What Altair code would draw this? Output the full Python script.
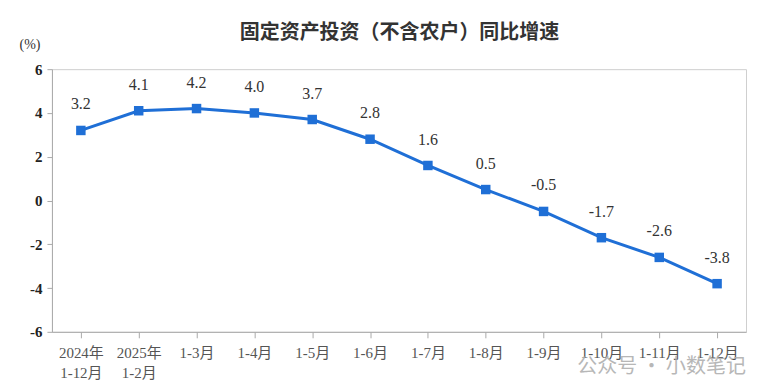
import altair as alt
import pandas as pd

categories = ["2024年\n1-12月", "2025年\n1-2月", "1-3月", "1-4月", "1-5月", "1-6月",
              "1-7月", "1-8月", "1-9月", "1-10月", "1-11月", "1-12月"]
values = [3.2, 4.1, 4.2, 4.0, 3.7, 2.8, 1.6, 0.5, -0.5, -1.7, -2.6, -3.8]
y_ticks = [-6, -4, -2, 0, 2, 4, 6]

df = pd.DataFrame({"cat": categories, "val": values,
                   "lab": [f"{v:.1f}" for v in values]})

BLUE = "#1f6fd6"
SERIF = "Liberation Serif, Noto Sans CJK SC"

x = alt.X("cat:N", sort=categories, title=None,
          scale=alt.Scale(paddingInner=0, paddingOuter=0),
          axis=alt.Axis(labelAngle=0, labelExpr="split(datum.label, '\\n')",
                        labelFont=SERIF, labelFontSize=15, labelColor="#555",
                        labelLineHeight=20, labelPadding=8,
                        bandPosition=0, ticks=True, tickSize=6, tickColor="#aaa",
                        domainColor="#aaa", grid=False))
y = alt.Y("val:Q", title=None,
          scale=alt.Scale(domain=[-6, 6], nice=False),
          axis=alt.Axis(values=y_ticks, labelExpr="'' + datum.value", labelFont=SERIF,
                        labelFontSize=15, labelFontWeight="bold", labelColor="#222",
                        labelPadding=5, tickSize=5, tickColor="#aaa",
                        domainColor="#aaa", grid=False))

base = alt.Chart(df)
line = base.mark_line(color=BLUE, strokeWidth=3).encode(x=x, y=y)
pts = base.mark_square(color=BLUE, size=90, opacity=1).encode(x=x, y=y)
labels = base.mark_text(font=SERIF, fontSize=16, color="#333", dy=-26).encode(
    x=x, y=y, text="lab:N")
unit = alt.Chart(pd.DataFrame({"t": ["(%)"]})).mark_text(
    font=SERIF, fontSize=14, color="#333").encode(
    x=alt.value(-22), y=alt.value(-24), text="t:N")
title = alt.Chart(pd.DataFrame({"t": ["固定资产投资（不含农户）同比增速"]})).mark_text(
    font="Noto Sans CJK SC", fontSize=20, fontWeight="bold", color="#333").encode(
    x=alt.value(348), y=alt.value(-36), text="t:N")
wm = alt.Chart(pd.DataFrame({"t": ["公众号 · 小数笔记"]})).mark_text(
    font="Noto Sans CJK SC", fontSize=20, color="#b0b0b0", align="left", opacity=0.9).encode(
    x=alt.value(526), y=alt.value(298), text="t:N")

chart = alt.layer(line, pts, labels, unit, title, wm).properties(
    width=695, height=263,
    autosize=alt.AutoSizeParams(type="none"),
    padding={"left": 44, "top": 61, "right": 12, "bottom": 50},
).configure_view(stroke="#cfcfcf", strokeWidth=1)

chart.save("out.html", embed_options={"renderer": "svg", "actions": False})
